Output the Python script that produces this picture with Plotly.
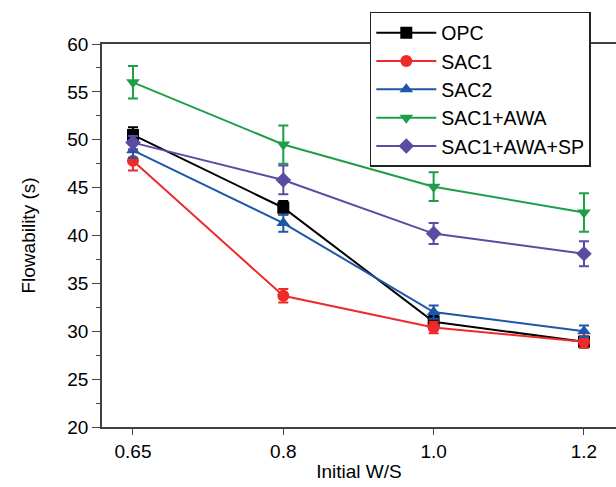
import plotly.graph_objects as go

ws_labels = ["0.65", "0.8", "1.0", "1.2"]

opc = [50.5, 42.9, 31.0, 28.9]
opc_err = [0.8, 0.7, 0.6, 0.6]
sac1 = [47.8, 33.7, 30.4, 28.9]
sac1_err = [1.0, 0.7, 0.6, 0.6]
sac2 = [48.9, 41.3, 32.0, 30.0]
sac2_err = [0.8, 0.9, 0.7, 0.6]
sac1_awa = [56.0, 49.5, 45.1, 42.4]
sac1_awa_err = [1.7, 2.0, 1.5, 2.0]
sac1_awa_sp = [49.7, 45.8, 40.2, 38.1]
sac1_awa_sp_err = [0.7, 1.5, 1.1, 1.3]

series = [
    ("OPC", opc, opc_err, "#000000", "square"),
    ("SAC1", sac1, sac1_err, "#EE2A2A", "circle"),
    ("SAC2", sac2, sac2_err, "#1F57A8", "triangle-up"),
    ("SAC1+AWA", sac1_awa, sac1_awa_err, "#1E9E48", "triangle-down"),
    ("SAC1+AWA+SP", sac1_awa_sp, sac1_awa_sp_err, "#5A4CA0", "diamond"),
]

fig = go.Figure()

for name, vals, err, color, symbol in series:
    fig.add_trace(go.Scatter(
        x=ws_labels,
        y=vals,
        name=name,
        mode="lines+markers",
        line={"color": color, "width": 2},
        marker={"symbol": symbol, "size": 12, "color": color},
        error_y={"type": "data", "array": err, "color": color,
                 "thickness": 2, "width": 5, "visible": True},
    ))

axis_color = "#404040"

fig.update_layout(
    width=616,
    height=487,
    paper_bgcolor="white",
    plot_bgcolor="white",
    font={"family": "Liberation Sans, Arial, sans-serif", "color": "#000000", "size": 19},
    margin={"t": 44, "b": 60, "l": 102, "r": 0},
    showlegend=True,
    legend={
        "x": 0.521, "y": 1.0836, "xanchor": "left", "yanchor": "top",
        "bgcolor": "white", "bordercolor": "#222222", "borderwidth": 1.5,
        "font": {"size": 19.5},
        "itemwidth": 60,
    },
    xaxis=dict(
        type="category",
        range=[-0.206, 3.213],
        automargin=False,
        title={"text": "Initial W/S", "font": {"size": 19}, "standoff": 4},
        showline=True, linecolor=axis_color, linewidth=1.5, mirror=True,
        ticks="outside", ticklen=6, tickwidth=1.2, tickcolor=axis_color,
        showgrid=False, zeroline=False,
    ),
    yaxis=dict(
        range=[20, 60],
        dtick=5,
        automargin=False,
        title={"text": "Flowability (s)", "font": {"size": 19}, "standoff": 27},
        showline=True, linecolor=axis_color, linewidth=1.5, mirror=False,
        ticks="outside", ticklen=8, tickwidth=1.2, tickcolor=axis_color,
        minor={"dtick": 2.5, "ticks": "outside", "ticklen": 4, "tickcolor": axis_color},
        showgrid=False, zeroline=False,
    ),
)

# drop the default page margin so the figure sits at the window's corner
fig.write_html(
    "out.html",
    config={"displayModeBar": False},
    post_script="document.body.style.margin='0';document.body.style.overflow='hidden';",
)
